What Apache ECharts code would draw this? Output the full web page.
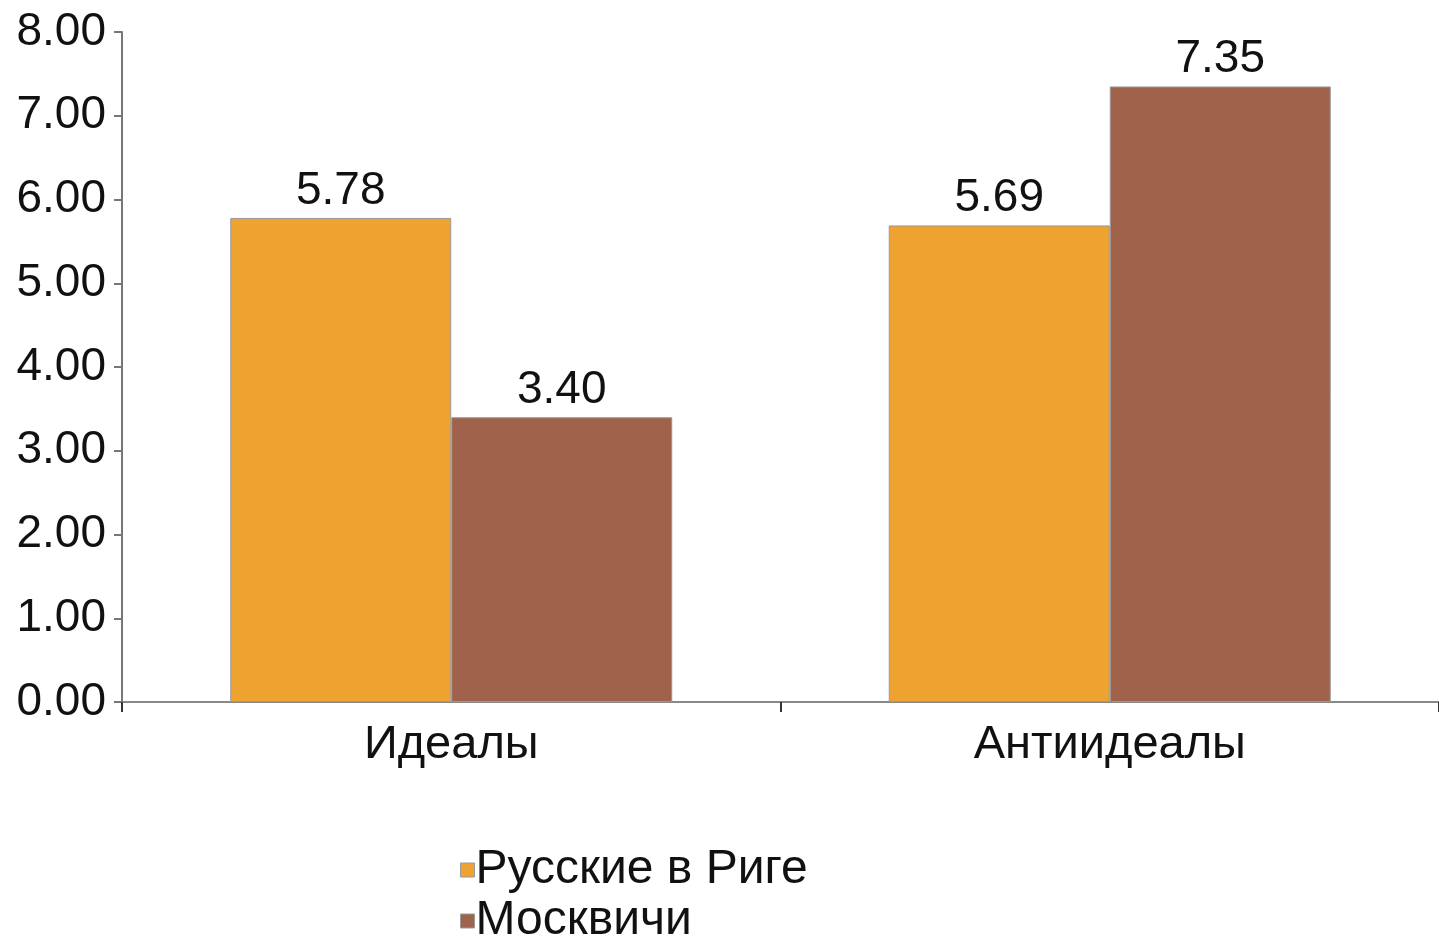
<!DOCTYPE html>
<html>
<head>
<meta charset="utf-8">
<style>
  html, body { margin: 0; padding: 0; background: #fff; }
  #chart { width: 1439px; height: 939px; }
</style>
<script src="https://cdn.jsdelivr.net/npm/echarts@6/dist/echarts.min.js"></script>
</head>
<body>
<div id="chart"></div>
<script>
const categories = ['Идеалы', 'Антиидеалы'];
const seriesNames = ['Русские в Риге', 'Москвичи'];
const rigaValues = [5.78, 5.69];
const moscowValues = [3.40, 7.35];
const colors = ['#EEA22F', '#A0624B'];

const font = '"Liberation Sans", Arial, sans-serif';
const chart = echarts.init(document.getElementById('chart'));

// подпись над столбцом
const barLabel = {
  show: true,
  position: 'top',
  distance: 4,
  color: '#111',
  fontSize: 46,
  fontFamily: font,
  formatter: p => p.value.toFixed(2)
};

// легенда в две строки: по одному компоненту на серию
const legendItem = (name, top) => ({
  left: 455,
  top: top,
  itemWidth: 14,
  itemHeight: 14,
  icon: 'rect',
  itemStyle: { borderColor: '#999', borderWidth: 1 },
  textStyle: { fontSize: 48, fontFamily: font, color: '#111', padding: [0, 0, 0, -4] },
  data: [name]
});

const option = {
  animation: false,
  backgroundColor: '#fff',
  color: colors,
  grid: { left: 122, right: -7, top: 32, bottom: 237, containLabel: false },
  legend: [legendItem(seriesNames[0], 841), legendItem(seriesNames[1], 892)],
  xAxis: {
    type: 'category',
    data: categories,
    axisLine: { lineStyle: { color: '#888', width: 2 } },
    axisTick: { show: true, length: 10, lineStyle: { color: '#333', width: 2 } },
    axisLabel: { fontSize: 47, fontFamily: font, color: '#111', margin: 20 }
  },
  yAxis: {
    type: 'value',
    min: 0,
    max: 8,
    interval: 1,
    splitLine: { show: false },
    axisLine: { show: true, lineStyle: { color: '#777', width: 2 } },
    axisTick: { show: true, length: 8, lineStyle: { color: '#777', width: 2 } },
    axisLabel: {
      fontSize: 46, fontFamily: font, color: '#111', margin: 16,
      formatter: v => v.toFixed(2)
    }
  },
  series: [
    {
      name: seriesNames[0],
      type: 'bar',
      data: rigaValues,
      barWidth: 221,
      barGap: '0%',
      itemStyle: { color: colors[0], borderColor: '#999', borderWidth: 1 },
      label: barLabel
    },
    {
      name: seriesNames[1],
      type: 'bar',
      data: moscowValues,
      barWidth: 221,
      barGap: '0%',
      itemStyle: { color: colors[1], borderColor: '#999', borderWidth: 1 },
      label: barLabel
    }
  ]
};

chart.setOption(option);
window.addEventListener('resize', () => chart.resize());
</script>
</body>
</html>
